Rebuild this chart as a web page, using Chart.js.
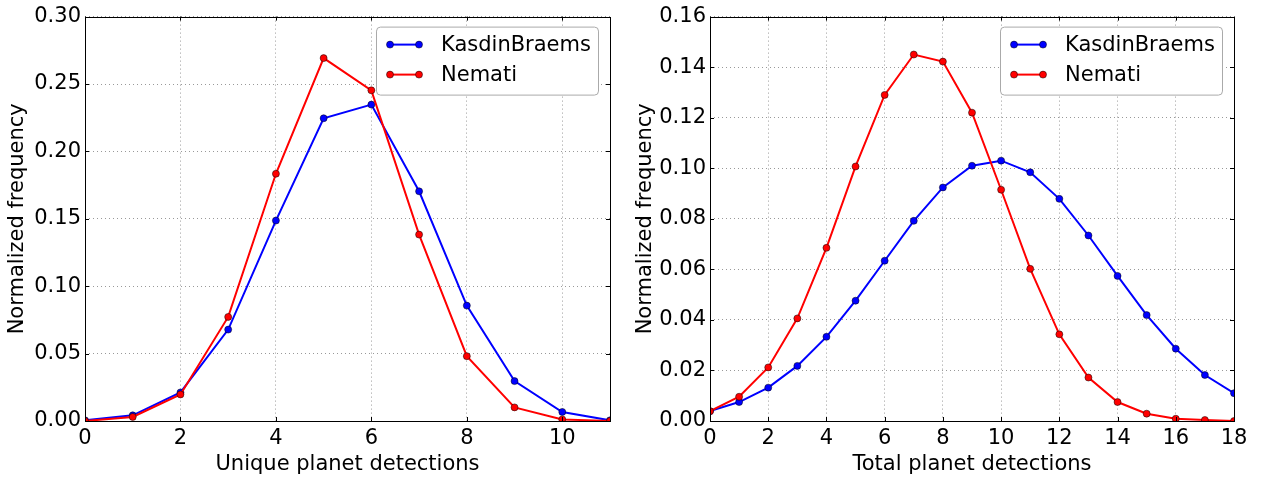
<!DOCTYPE html>
<html lang="en">
<head>
<meta charset="UTF-8">
<title>Planet detections</title>
<script src="https://cdn.jsdelivr.net/npm/chart.js"></script>
<style>
  body { margin: 0; background: #fff; }
  .panel { position: absolute; top: 0; width: 633px; height: 477px; }
</style>
</head>
<body>
<div class="panel" style="left:0"><canvas id="uniqueChart"></canvas></div>
<div class="panel" style="left:633px"><canvas id="totalChart"></canvas></div>
<script>
// series names
const seriesNames = ['KasdinBraems', 'Nemati'];

// left panel: unique planet detections
const uniqueCounts = [0, 1, 2, 3, 4, 5, 6, 7, 8, 9, 10, 11];
const uniqueKasdin = [0.0005, 0.0042, 0.0212, 0.0678, 0.1487, 0.2246, 0.2347, 0.1704, 0.0856, 0.0296, 0.0067, 0.0005];
const uniqueNemati = [0.0, 0.0030, 0.0197, 0.0772, 0.1834, 0.2692, 0.2453, 0.1383, 0.0481, 0.0101, 0.0012, 0.0];

// right panel: total planet detections
const totalCounts = [0, 1, 2, 3, 4, 5, 6, 7, 8, 9, 10, 11, 12, 13, 14, 15, 16, 17, 18];
const totalKasdin = [0.0039, 0.0075, 0.0132, 0.0218, 0.0333, 0.0476, 0.0634, 0.0792, 0.0924, 0.1010, 0.1030, 0.0984, 0.0879, 0.0734, 0.0574, 0.0419, 0.0286, 0.0182, 0.0110];
const totalNemati = [0.0039, 0.0096, 0.0212, 0.0406, 0.0685, 0.1007, 0.1290, 0.1450, 0.1422, 0.1220, 0.0915, 0.0602, 0.0343, 0.0172, 0.0075, 0.0029, 0.0009, 0.0004, 0.0];

const colors = ['#0000ff', '#ff0000'];
const FONT = 'DejaVu Sans';
const FONT_SIZE = 21;

// matplotlib-ish frame with inward ticks
const framePlugin = {
  id: 'frame',
  afterDatasetsDraw(chart) {
    const {ctx, chartArea: a, scales} = chart;
    ctx.save();
    ctx.strokeStyle = '#000';
    ctx.lineWidth = 1;
    ctx.strokeRect(Math.round(a.left) + 0.5, Math.round(a.top) + 0.5,
      Math.round(a.right - a.left), Math.round(a.bottom - a.top));
    ctx.beginPath();
    scales.x.ticks.forEach(t => {
      const x = Math.round(scales.x.getPixelForValue(t.value)) + 0.5;
      ctx.moveTo(x, a.bottom); ctx.lineTo(x, a.bottom - 4);
      ctx.moveTo(x, a.top); ctx.lineTo(x, a.top + 4);
    });
    scales.y.ticks.forEach(t => {
      const y = Math.round(scales.y.getPixelForValue(t.value)) + 0.5;
      ctx.moveTo(a.left, y); ctx.lineTo(a.left + 4, y);
      ctx.moveTo(a.right, y); ctx.lineTo(a.right - 4, y);
    });
    ctx.stroke();
    ctx.restore();
  }
};

// legend box in the upper right corner
const legendBoxPlugin = {
  id: 'legendBox',
  afterDraw(chart) {
    const {ctx, chartArea: a} = chart;
    const w = 222, h = 68;
    const left = a.right - 12 - w, top = a.top + 10;
    ctx.save();
    ctx.fillStyle = '#fff';
    ctx.strokeStyle = '#aaa';
    ctx.lineWidth = 1;
    ctx.beginPath();
    ctx.roundRect(left + 0.5, top + 0.5, w, h, 4);
    ctx.fill();
    ctx.stroke();
    chart.data.datasets.forEach((ds, i) => {
      const y = top + 18 + i * 30;
      ctx.strokeStyle = ds.borderColor;
      ctx.lineWidth = 2;
      ctx.beginPath();
      ctx.moveTo(left + 14, y);
      ctx.lineTo(left + 43, y);
      ctx.stroke();
      [left + 14, left + 43].forEach(x => {
        ctx.beginPath();
        ctx.arc(x, y, 3.5, 0, Math.PI * 2);
        ctx.fillStyle = ds.borderColor;
        ctx.fill();
        ctx.lineWidth = 0.5;
        ctx.strokeStyle = '#000';
        ctx.stroke();
      });
      ctx.fillStyle = '#000';
      ctx.font = FONT_SIZE + 'px "' + FONT + '"';
      ctx.textBaseline = 'middle';
      ctx.textAlign = 'left';
      ctx.fillText(ds.label, left + 65, y + 1);
    });
    ctx.restore();
  }
};

function makeChart(id, counts, kasdin, nemati, opts) {
  const series = [kasdin, nemati];
  const datasets = series.map((vals, i) => ({
    label: seriesNames[i],
    data: counts.map((c, j) => ({x: c, y: vals[j]})),
    borderColor: colors[i],
    backgroundColor: colors[i],
    borderWidth: 2,
    pointRadius: 3.5,
    pointBorderWidth: 0.5,
    pointBorderColor: '#000',
    pointBackgroundColor: colors[i],
    pointHoverRadius: 3.5,
    tension: 0,
    clip: 0,
    order: i === 0 ? 1 : 0
  }));
  const grid = {color: 'rgba(0,0,0,0.4)', lineWidth: 1, drawTicks: false};
  const font = {family: FONT, size: FONT_SIZE};
  return new Chart(document.getElementById(id), {
    type: 'line',
    data: {datasets: datasets},
    options: {
      responsive: true,
      maintainAspectRatio: false,
      animation: false,
      layout: {padding: {left: 0, right: opts.padRight, top: 16, bottom: 0}},
      plugins: {legend: {display: false}, tooltip: {enabled: false}},
      scales: {
        x: {
          type: 'linear',
          min: 0,
          max: opts.xMax,
          grid: grid,
          border: {display: false, dash: [1, 3]},
          ticks: {stepSize: 2, includeBounds: false, padding: 5, color: '#000',
                  font: font, callback: v => String(v)},
          title: {display: true, text: opts.xTitle, color: '#000',
                  font: font, padding: {top: 0, bottom: 0}},
          afterFit: s => { s.height = 56; }
        },
        y: {
          min: 0,
          max: opts.yMax,
          grid: grid,
          border: {display: false, dash: [1, 3]},
          ticks: {stepSize: opts.yStep, padding: 4, color: '#000',
                  font: font, callback: v => v.toFixed(2)},
          title: {display: true, text: 'Normalized frequency', color: '#000',
                  font: font, padding: {top: opts.yTitlePad, bottom: 0}},
          afterFit: s => { s.width = opts.yWidth; }
        }
      }
    },
    plugins: [framePlugin, legendBoxPlugin]
  });
}

makeChart('uniqueChart', uniqueCounts, uniqueKasdin, uniqueNemati,
  {xMax: 11, yMax: 0.30, yStep: 0.05, xTitle: 'Unique planet detections',
   padRight: 23, yWidth: 85, yTitlePad: 5});
makeChart('totalChart', totalCounts, totalKasdin, totalNemati,
  {xMax: 18, yMax: 0.16, yStep: 0.02, xTitle: 'Total planet detections',
   padRight: 32, yWidth: 77, yTitlePad: 0});
</script>
</body>
</html>
